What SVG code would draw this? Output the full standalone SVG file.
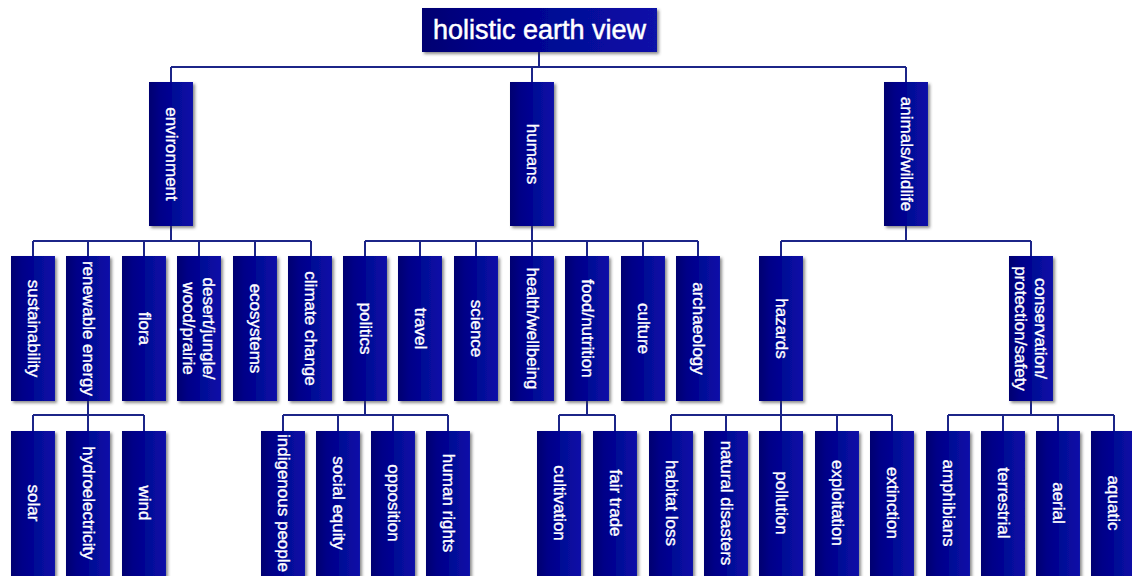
<svg xmlns="http://www.w3.org/2000/svg" width="1132" height="576" viewBox="0 0 1132 576">
<defs>
<linearGradient id="g" x1="0" y1="0" x2="1" y2="0">
<stop offset="0" stop-color="#000070"/>
<stop offset="0.25" stop-color="#000088"/>
<stop offset="1" stop-color="#0a12a8"/>
</linearGradient>
<filter id="sh" x="-30%" y="-10%" width="160%" height="130%">
<feDropShadow dx="2" dy="2" stdDeviation="1.6" flood-color="#404040" flood-opacity="0.6"/>
</filter>
<style>
.b{fill:url(#g);filter:url(#sh)}
.t{fill:#ffffff;stroke:#ffffff;stroke-width:0.35;font-family:"Liberation Sans",Arial,sans-serif;font-size:17px;text-anchor:middle;dominant-baseline:central}
.tt{fill:#ffffff;stroke:#ffffff;stroke-width:0.5;font-family:"Liberation Sans",Arial,sans-serif;font-size:27px;text-anchor:middle;dominant-baseline:central}
.c{fill:none;stroke:#1c2588;stroke-width:2}
</style>
</defs>
<rect width="1132" height="576" fill="#ffffff"/>
<g id="connectors">
<path class="c" d="M539 52V67M171 67H906M171 67V82M532 67V82M906 67V82"/>
<path class="c" d="M171 226V241M33 241H311M33 241V256M88 241V256M144 241V256M199 241V256M255 241V256M311 241V256"/>
<path class="c" d="M532 226V241M365 241H698M365 241V256M420 241V256M476 241V256M532 241V256M587 241V256M643 241V256M698 241V256"/>
<path class="c" d="M906 226V241M781 241H1031M781 241V256M1031 241V256"/>
<path class="c" d="M88 401V415M33 415H144M33 415V431M88 415V431M144 415V431"/>
<path class="c" d="M365 401V415M283 415H448M283 415V431M338 415V431M393 415V431M448 415V431"/>
<path class="c" d="M587 401V415M559 415H615M559 415V431M615 415V431"/>
<path class="c" d="M781 401V415M671 415H892M671 415V431M726 415V431M781 415V431M837 415V431M892 415V431"/>
<path class="c" d="M1031 401V415M948 415H1114M948 415V431M1003 415V431M1058 415V431M1114 415V431"/>
</g>
<g id="n-root"><rect class="b" x="422" y="8" width="235" height="44"/><text class="tt" x="539.5" y="30">holistic earth view</text></g>
<g id="n-environment"><rect class="b" x="149" y="82" width="44" height="144"/><text class="t" transform="translate(171,154) rotate(90)">environment</text></g>
<g id="n-humans"><rect class="b" x="510" y="82" width="44" height="144"/><text class="t" transform="translate(532,154) rotate(90)">humans</text></g>
<g id="n-animals"><rect class="b" x="884" y="82" width="44" height="144"/><text class="t" transform="translate(906,154) rotate(90)">animals/wildlife</text></g>
<g id="n-sustainability"><rect class="b" x="11" y="256" width="44" height="145"/><text class="t" transform="translate(33,328.5) rotate(90)">sustainability</text></g>
<g id="n-renewable"><rect class="b" x="66" y="256" width="44" height="145"/><text class="t" transform="translate(88,328.5) rotate(90)">renewable energy</text></g>
<g id="n-flora"><rect class="b" x="122" y="256" width="44" height="145"/><text class="t" transform="translate(144,328.5) rotate(90)">flora</text></g>
<g id="n-desert"><rect class="b" x="177" y="256" width="44" height="145"/><text class="t" transform="translate(199,328.5) rotate(90)"><tspan x="0" y="-10">desert/jungle/</tspan><tspan x="0" y="10">wood/prairie</tspan></text></g>
<g id="n-ecosystems"><rect class="b" x="233" y="256" width="44" height="145"/><text class="t" transform="translate(255,328.5) rotate(90)">ecosystems</text></g>
<g id="n-climate"><rect class="b" x="288" y="256" width="44" height="145"/><text class="t" transform="translate(310,328.5) rotate(90)">climate change</text></g>
<g id="n-politics"><rect class="b" x="343" y="256" width="44" height="145"/><text class="t" transform="translate(365,328.5) rotate(90)">politics</text></g>
<g id="n-travel"><rect class="b" x="398" y="256" width="44" height="145"/><text class="t" transform="translate(420,328.5) rotate(90)">travel</text></g>
<g id="n-science"><rect class="b" x="454" y="256" width="44" height="145"/><text class="t" transform="translate(476,328.5) rotate(90)">science</text></g>
<g id="n-health"><rect class="b" x="510" y="256" width="44" height="145"/><text class="t" transform="translate(532,328.5) rotate(90)">health/wellbeing</text></g>
<g id="n-food"><rect class="b" x="565" y="256" width="44" height="145"/><text class="t" transform="translate(587,328.5) rotate(90)">food/nutrition</text></g>
<g id="n-culture"><rect class="b" x="621" y="256" width="44" height="145"/><text class="t" transform="translate(643,328.5) rotate(90)">culture</text></g>
<g id="n-archaeology"><rect class="b" x="676" y="256" width="44" height="145"/><text class="t" transform="translate(698,328.5) rotate(90)">archaeology</text></g>
<g id="n-hazards"><rect class="b" x="759" y="256" width="44" height="145"/><text class="t" transform="translate(781,328.5) rotate(90)">hazards</text></g>
<g id="n-conservation"><rect class="b" x="1009" y="256" width="44" height="145"/><text class="t" transform="translate(1031,328.5) rotate(90)"><tspan x="0" y="-10">conservation/</tspan><tspan x="0" y="10">protection/safety</tspan></text></g>
<g id="n-solar"><rect class="b" x="11" y="431" width="44" height="145"/><text class="t" transform="translate(33,503) rotate(90)">solar</text></g>
<g id="n-hydro"><rect class="b" x="66" y="431" width="44" height="145"/><text class="t" transform="translate(88,503) rotate(90)">hydroelectricity</text></g>
<g id="n-wind"><rect class="b" x="122" y="431" width="44" height="145"/><text class="t" transform="translate(144,503) rotate(90)">wind</text></g>
<g id="n-indigenous"><rect class="b" x="261" y="431" width="44" height="145"/><text class="t" transform="translate(283,503) rotate(90)">indigenous people</text></g>
<g id="n-equity"><rect class="b" x="316" y="431" width="44" height="145"/><text class="t" transform="translate(338,503) rotate(90)">social equity</text></g>
<g id="n-opposition"><rect class="b" x="371" y="431" width="44" height="145"/><text class="t" transform="translate(393,503) rotate(90)">opposition</text></g>
<g id="n-rights"><rect class="b" x="426" y="431" width="44" height="145"/><text class="t" transform="translate(448,503) rotate(90)">human rights</text></g>
<g id="n-cultivation"><rect class="b" x="537" y="431" width="44" height="145"/><text class="t" transform="translate(559,503) rotate(90)">cultivation</text></g>
<g id="n-fairtrade"><rect class="b" x="593" y="431" width="44" height="145"/><text class="t" transform="translate(615,503) rotate(90)">fair trade</text></g>
<g id="n-habitat"><rect class="b" x="649" y="431" width="44" height="145"/><text class="t" transform="translate(671,503) rotate(90)">habitat loss</text></g>
<g id="n-natural"><rect class="b" x="704" y="431" width="44" height="145"/><text class="t" transform="translate(726,503) rotate(90)">natural disasters</text></g>
<g id="n-pollution"><rect class="b" x="759" y="431" width="44" height="145"/><text class="t" transform="translate(781,503) rotate(90)">pollution</text></g>
<g id="n-exploitation"><rect class="b" x="815" y="431" width="44" height="145"/><text class="t" transform="translate(837,503) rotate(90)">exploitation</text></g>
<g id="n-extinction"><rect class="b" x="870" y="431" width="44" height="145"/><text class="t" transform="translate(892,503) rotate(90)">extinction</text></g>
<g id="n-amphibians"><rect class="b" x="926" y="431" width="44" height="145"/><text class="t" transform="translate(948,503) rotate(90)">amphibians</text></g>
<g id="n-terrestrial"><rect class="b" x="981" y="431" width="44" height="145"/><text class="t" transform="translate(1003,503) rotate(90)">terrestrial</text></g>
<g id="n-aerial"><rect class="b" x="1036" y="431" width="44" height="145"/><text class="t" transform="translate(1058,503) rotate(90)">aerial</text></g>
<g id="n-aquatic"><rect class="b" x="1091" y="431" width="44" height="145"/><text class="t" transform="translate(1113,503) rotate(90)">aquatic</text></g>
</svg>
